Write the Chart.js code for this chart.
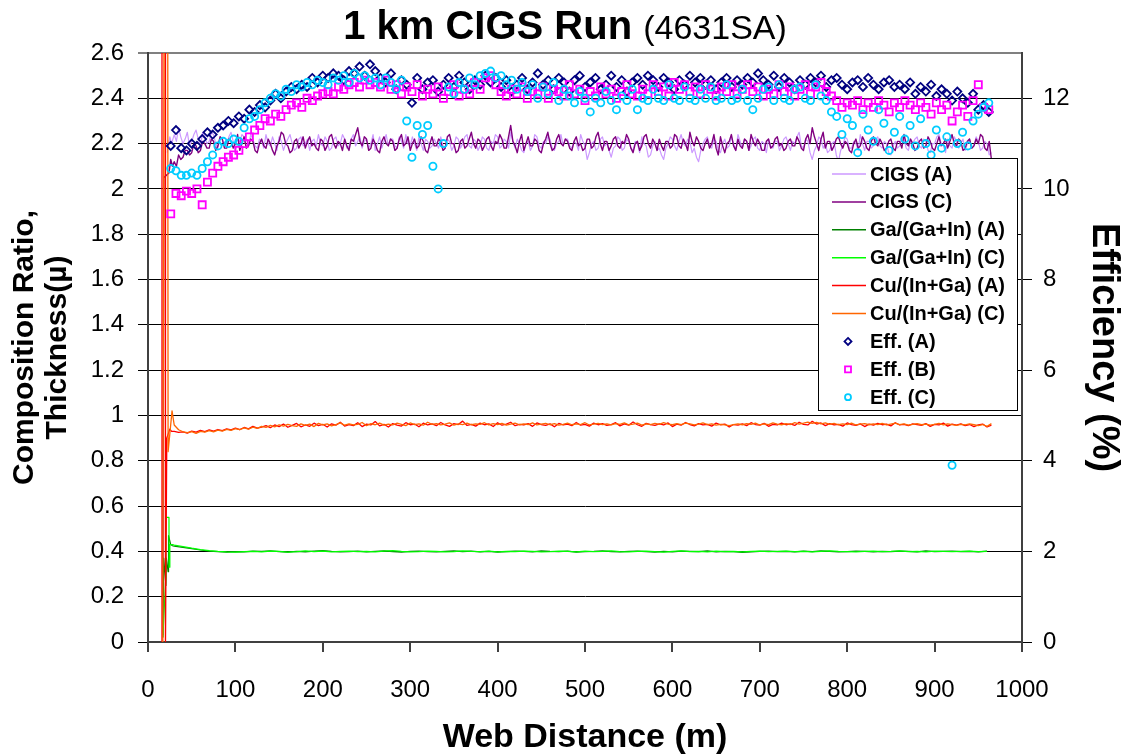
<!DOCTYPE html>
<html>
<head>
<meta charset="utf-8">
<title>1 km CIGS Run</title>
<script src="https://cdn.jsdelivr.net/npm/chart.js@4.4.1/dist/chart.umd.min.js"></script>
<style>
  html, body { margin: 0; padding: 0; background: #fff; }
  #wrap { width: 1127px; height: 755px; }
</style>
</head>
<body>
<div id="wrap"><canvas id="runChart" width="1127" height="755"></canvas></div>
<script>
/* ------------------- AXES ------------------- */
const X_MIN = 0, X_MAX = 1000, X_STEP = 100;
const RATIO_MIN = 0, RATIO_MAX = 2.6, RATIO_STEP = 0.2;
const EFF_MIN = 0, EFF_MAX = 13, EFF_STEP = 2;

/* ------------------- LINE DATA (composition, thickness) ------------------- */
// CIGS thickness every 2.5 m from 30 m
const CIGS_X0 = 30, CIGS_DX = 2.5;
// Cu/(In+Ga) every 5 m from 30 m
const CU_X0 = 30, CU_DX = 5;
// Ga/(Ga+In) every 10 m from 30 m
const GA_X0 = 30, GA_DX = 10;

// start-up transients, explicit distances
const cigsA_headX = [22, 25, 27];
const cigsA_headY = [2.16, 2.23, 2.20];
const cigsC_headX = [17, 18, 24, 26, 28];
const cigsC_headY = [0.03, 2.05, 2.07, 2.13, 2.10];
const gaA_headX = [17, 18, 20.5, 21, 23, 23.5, 26, 28];
const gaA_headY = [0.02, 0.37, 0.25, 0.37, 0.31, 0.47, 0.43, 0.425];
const gaC_headX = [17, 20.5, 20.6, 24, 24.1, 25, 28];
const gaC_headY = [0.02, 0.30, 0.55, 0.55, 0.33, 0.43, 0.43];
const cuA_headX = [15.5, 16, 19.5, 20, 21.5, 25, 27];
const cuA_headY = [0.0, 3.2, 3.2, 0.0, 0.90, 0.94, 0.93];
const cuC_headX = [16.5, 17, 18.5, 22.5, 23, 27.5];
const cuC_headY = [0.0, 0.12, 3.2, 3.2, 0.84, 1.02];

const cigsA = [
  2.24, 2.21, 2.27, 2.23, 2.20, 2.22, 2.25, 2.19, 2.21, 2.24, 2.26, 2.22, 2.19, 2.25, 2.23, 2.20, 2.21, 2.25, 2.24, 2.20,
  2.18, 2.23, 2.22, 2.19, 2.20, 2.23, 2.25, 2.21, 2.17, 2.20, 2.21, 2.24, 2.23, 2.18, 2.19, 2.24, 2.22, 2.19, 2.18, 2.22,
  2.21, 2.18, 2.24, 2.20, 2.19, 2.23, 2.20, 2.17, 2.23, 2.21, 2.17, 2.20, 2.22, 2.24, 2.20, 2.17, 2.18, 2.22, 2.23, 2.19,
  2.20, 2.22, 2.17, 2.21, 2.22, 2.19, 2.24, 2.20, 2.19, 2.23, 2.21, 2.17, 2.18, 2.22, 2.23, 2.19, 2.20, 2.24, 2.22, 2.18,
  2.19, 2.22, 2.24, 2.19, 2.21, 2.23, 2.18, 2.21, 2.22, 2.18, 2.20, 2.24, 2.17, 2.20, 2.23, 2.18, 2.21, 2.24, 2.19, 2.22,
  2.22, 2.19, 2.18, 2.23, 2.21, 2.18, 2.24, 2.20, 2.19, 2.23, 2.20, 2.17, 2.23, 2.20, 2.17, 2.22, 2.21, 2.18, 2.19, 2.22,
  2.20, 2.18, 2.23, 2.19, 2.18, 2.22, 2.21, 2.17, 2.19, 2.23, 2.22, 2.18, 2.20, 2.23, 2.24, 2.19, 2.18, 2.22, 2.21, 2.17,
  2.19, 2.23, 2.22, 2.18, 2.17, 2.21, 2.20, 2.24, 2.23, 2.18, 2.19, 2.22, 2.21, 2.18, 2.25, 2.21, 2.18, 2.22, 2.20, 2.17,
  2.16, 2.20, 2.21, 2.17, 2.19, 2.24, 2.23, 2.19, 2.18, 2.21, 2.20, 2.23, 2.22, 2.18, 2.17, 2.20, 2.21, 2.24, 2.19, 2.22,
  2.22, 2.19, 2.18, 2.21, 2.20, 2.17, 2.24, 2.21, 2.19, 2.13, 2.16, 2.20, 2.21, 2.17, 2.18, 2.22, 2.23, 2.19, 2.20, 2.17,
  2.14, 2.18, 2.19, 2.23, 2.22, 2.17, 2.18, 2.22, 2.21, 2.18, 2.17, 2.21, 2.20, 2.16, 2.23, 2.20, 2.19, 2.14, 2.15, 2.19,
  2.21, 2.17, 2.18, 2.15, 2.13, 2.18, 2.20, 2.23, 2.22, 2.19, 2.17, 2.21, 2.24, 2.20, 2.19, 2.22, 2.21, 2.16, 2.18, 2.14,
  2.12, 2.17, 2.20, 2.22, 2.23, 2.19, 2.18, 2.22, 2.21, 2.17, 2.16, 2.20, 2.22, 2.18, 2.19, 2.23, 2.20, 2.17, 2.24, 2.21,
  2.18, 2.22, 2.21, 2.17, 2.19, 2.22, 2.23, 2.18, 2.17, 2.21, 2.20, 2.16, 2.22, 2.19, 2.18, 2.21, 2.21, 2.17, 2.19, 2.22,
  2.23, 2.20, 2.17, 2.21, 2.20, 2.23, 2.25, 2.19, 2.18, 2.22, 2.21, 2.16, 2.13, 2.17, 2.19, 2.23, 2.22, 2.18, 2.20, 2.16,
  2.17, 2.20, 2.21, 2.15, 2.12, 2.17, 2.19, 2.23, 2.22, 2.18, 2.18, 2.21, 2.20, 2.17, 2.24, 2.20, 2.17, 2.21, 2.21, 2.18,
  2.19, 2.22, 2.23, 2.19, 2.18, 2.21, 2.20, 2.16, 2.15, 2.19, 2.21, 2.18, 2.19, 2.23, 2.22, 2.18, 2.17, 2.21, 2.20, 2.22,
  2.23, 2.19, 2.18, 2.22, 2.21, 2.17, 2.16, 2.20, 2.20, 2.23, 2.24, 2.20, 2.19, 2.16, 2.22, 2.19, 2.18, 2.23, 2.21, 2.18,
  2.20, 2.22, 2.17, 2.20, 2.22, 2.18, 2.19, 2.23, 2.21, 2.17, 2.18, 2.21, 2.20, 2.15, 2.16
];
const cigsC = [
  2.12, 2.10, 2.15, 2.13, 2.14, 2.17, 2.17, 2.15, 2.16, 2.20, 2.19, 2.16, 2.17, 2.21, 2.20, 2.18, 2.18, 2.22, 2.21, 2.17,
  2.19, 2.23, 2.22, 2.18, 2.18, 2.22, 2.21, 2.18, 2.20, 2.24, 2.17, 2.20, 2.23, 2.18, 2.19, 2.22, 2.21, 2.17, 2.16, 2.20,
  2.22, 2.19, 2.18, 2.22, 2.20, 2.17, 2.15, 2.19, 2.21, 2.25, 2.24, 2.20, 2.19, 2.16, 2.17, 2.21, 2.22, 2.18, 2.20, 2.23,
  2.18, 2.21, 2.23, 2.19, 2.20, 2.18, 2.17, 2.22, 2.21, 2.17, 2.19, 2.23, 2.24, 2.20, 2.18, 2.21, 2.20, 2.17, 2.22, 2.19,
  2.17, 2.22, 2.21, 2.24, 2.27, 2.21, 2.19, 2.23, 2.22, 2.17, 2.18, 2.22, 2.20, 2.17, 2.16, 2.21, 2.23, 2.20, 2.19, 2.22,
  2.21, 2.17, 2.18, 2.22, 2.24, 2.19, 2.20, 2.23, 2.17, 2.20, 2.22, 2.18, 2.19, 2.23, 2.21, 2.17, 2.16, 2.20, 2.23, 2.19,
  2.19, 2.22, 2.21, 2.17, 2.18, 2.23, 2.24, 2.20, 2.20, 2.16, 2.17, 2.21, 2.22, 2.18, 2.19, 2.22, 2.25, 2.20, 2.18, 2.22,
  2.21, 2.17, 2.19, 2.22, 2.23, 2.19, 2.17, 2.21, 2.20, 2.24, 2.22, 2.18, 2.18, 2.23, 2.28, 2.21, 2.19, 2.16, 2.21, 2.24,
  2.17, 2.20, 2.23, 2.19, 2.19, 2.22, 2.21, 2.17, 2.16, 2.20, 2.22, 2.25, 2.20, 2.17, 2.18, 2.22, 2.24, 2.20, 2.19, 2.22,
  2.21, 2.18, 2.17, 2.21, 2.23, 2.19, 2.20, 2.17, 2.18, 2.22, 2.22, 2.18, 2.19, 2.23, 2.25, 2.20, 2.17, 2.21, 2.21, 2.17,
  2.19, 2.22, 2.23, 2.19, 2.18, 2.21, 2.20, 2.24, 2.22, 2.18, 2.16, 2.20, 2.21, 2.17, 2.19, 2.23, 2.24, 2.20, 2.18, 2.22,
  2.20, 2.17, 2.22, 2.19, 2.17, 2.21, 2.21, 2.18, 2.19, 2.24, 2.23, 2.19, 2.18, 2.22, 2.20, 2.17, 2.25, 2.21, 2.19, 2.23,
  2.21, 2.18, 2.17, 2.20, 2.22, 2.18, 2.20, 2.24, 2.18, 2.15, 2.23, 2.19, 2.16, 2.20, 2.21, 2.24, 2.19, 2.17, 2.22, 2.19,
  2.18, 2.22, 2.21, 2.17, 2.24, 2.21, 2.19, 2.22, 2.20, 2.17, 2.17, 2.21, 2.22, 2.18, 2.19, 2.22, 2.23, 2.19, 2.20, 2.17,
  2.18, 2.21, 2.22, 2.19, 2.19, 2.23, 2.21, 2.18, 2.17, 2.22, 2.24, 2.20, 2.27, 2.23, 2.20, 2.17, 2.22, 2.25, 2.18, 2.21,
  2.21, 2.17, 2.19, 2.22, 2.23, 2.20, 2.18, 2.21, 2.20, 2.17, 2.16, 2.20, 2.22, 2.18, 2.19, 2.23, 2.21, 2.18, 2.17, 2.21,
  2.23, 2.20, 2.19, 2.22, 2.20, 2.17, 2.18, 2.21, 2.22, 2.18, 2.17, 2.21, 2.21, 2.18, 2.24, 2.20, 2.19, 2.22, 2.20, 2.17,
  2.18, 2.21, 2.22, 2.18, 2.19, 2.23, 2.21, 2.18, 2.17, 2.20, 2.23, 2.19, 2.20, 2.22, 2.18, 2.21, 2.24, 2.20, 2.19, 2.22,
  2.21, 2.17, 2.18, 2.21, 2.22, 2.18, 2.19, 2.22, 2.20, 2.24, 2.23, 2.18, 2.17, 2.21, 2.13
];
const gaA = [
  0.423, 0.418, 0.412, 0.406, 0.401, 0.399, 0.397, 0.399, 0.398, 0.401,
  0.400, 0.402, 0.399, 0.397, 0.400, 0.398, 0.401, 0.403, 0.400, 0.398,
  0.399, 0.401, 0.398, 0.400, 0.402, 0.399, 0.397, 0.400, 0.401, 0.399,
  0.398, 0.400, 0.402, 0.399, 0.401, 0.398, 0.400, 0.397, 0.399, 0.401,
  0.400, 0.398, 0.402, 0.400, 0.399, 0.401, 0.397, 0.399, 0.400, 0.402,
  0.399, 0.398, 0.400, 0.401, 0.399, 0.397, 0.400, 0.398, 0.401, 0.400,
  0.399, 0.402, 0.398, 0.400, 0.399, 0.396, 0.398, 0.400, 0.401, 0.399,
  0.400, 0.398, 0.401, 0.399, 0.402, 0.400, 0.398, 0.399, 0.401, 0.400,
  0.398, 0.400, 0.399, 0.401, 0.400, 0.398, 0.402, 0.399, 0.400, 0.401,
  0.399, 0.400, 0.398, 0.401
];
const gaC = [
  0.428, 0.421, 0.414, 0.408, 0.403, 0.400, 0.398, 0.397, 0.399, 0.400,
  0.398, 0.401, 0.400, 0.397, 0.399, 0.402, 0.399, 0.401, 0.398, 0.400,
  0.401, 0.399, 0.400, 0.398, 0.401, 0.403, 0.400, 0.398, 0.399, 0.401,
  0.400, 0.398, 0.399, 0.402, 0.400, 0.399, 0.401, 0.398, 0.400, 0.399,
  0.401, 0.400, 0.398, 0.399, 0.401, 0.400, 0.398, 0.401, 0.399, 0.400,
  0.402, 0.399, 0.398, 0.400, 0.401, 0.399, 0.397, 0.400, 0.402, 0.399,
  0.400, 0.398, 0.401, 0.399, 0.400, 0.398, 0.400, 0.401, 0.399, 0.400,
  0.401, 0.399, 0.400, 0.398, 0.400, 0.402, 0.400, 0.399, 0.398, 0.400,
  0.401, 0.399, 0.400, 0.402, 0.399, 0.400, 0.398, 0.401, 0.400, 0.399,
  0.400, 0.401, 0.399, 0.400
];
const cuA = [
  0.930, 0.925, 0.928, 0.922, 0.931, 0.926, 0.934, 0.929, 0.936, 0.931,
  0.938, 0.933, 0.941, 0.936, 0.944, 0.938, 0.947, 0.941, 0.952, 0.944,
  0.949, 0.955, 0.946, 0.958, 0.951, 0.962, 0.948, 0.956, 0.965, 0.950,
  0.958, 0.952, 0.966, 0.955, 0.961, 0.949, 0.963, 0.957, 0.970, 0.953,
  0.960, 0.955, 0.968, 0.951, 0.962, 0.958, 0.973, 0.954, 0.961, 0.949,
  0.964, 0.957, 0.953, 0.968, 0.959, 0.962, 0.950, 0.966, 0.958, 0.963,
  0.955, 0.969, 0.958, 0.952, 0.964, 0.960, 0.975, 0.956, 0.961, 0.953,
  0.966, 0.959, 0.963, 0.951, 0.968, 0.957, 0.962, 0.970, 0.955, 0.961,
  0.958, 0.964, 0.952, 0.967, 0.960, 0.956, 0.963, 0.950, 0.965, 0.958,
  0.962, 0.955, 0.969, 0.957, 0.961, 0.953, 0.966, 0.959, 0.964, 0.956,
  0.960, 0.968, 0.954, 0.963, 0.957, 0.971, 0.959, 0.952, 0.965, 0.960,
  0.956, 0.963, 0.958, 0.967, 0.951, 0.962, 0.957, 0.969, 0.960, 0.954,
  0.964, 0.958, 0.961, 0.953, 0.966, 0.959, 0.962, 0.949, 0.960, 0.957,
  0.963, 0.955, 0.968, 0.960, 0.957, 0.965, 0.952, 0.961, 0.958, 0.966,
  0.959, 0.963, 0.956, 0.970, 0.961, 0.958, 0.974, 0.962, 0.967, 0.955,
  0.964, 0.958, 0.961, 0.953, 0.967, 0.960, 0.956, 0.963, 0.951, 0.962,
  0.957, 0.965, 0.959, 0.962, 0.954, 0.968, 0.958, 0.961, 0.955, 0.963,
  0.960, 0.956, 0.964, 0.952, 0.961, 0.958, 0.966, 0.953, 0.962, 0.957,
  0.963, 0.955, 0.960, 0.951, 0.958, 0.962, 0.949, 0.957
];
const cuC = [
  0.958, 0.937, 0.928, 0.924, 0.929, 0.921, 0.930, 0.926, 0.933, 0.928,
  0.935, 0.931, 0.939, 0.934, 0.942, 0.937, 0.945, 0.940, 0.948, 0.943,
  0.952, 0.947, 0.956, 0.950, 0.959, 0.953, 0.961, 0.955, 0.952, 0.963,
  0.956, 0.962, 0.951, 0.965, 0.958, 0.963, 0.954, 0.960, 0.967, 0.957,
  0.963, 0.958, 0.961, 0.969, 0.955, 0.964, 0.959, 0.966, 0.957, 0.962,
  0.958, 0.966, 0.961, 0.955, 0.967, 0.960, 0.963, 0.957, 0.970, 0.961,
  0.964, 0.958, 0.962, 0.967, 0.957, 0.963, 0.960, 0.966, 0.959, 0.963,
  0.961, 0.968, 0.958, 0.964, 0.960, 0.965, 0.957, 0.962, 0.966, 0.959,
  0.963, 0.960, 0.967, 0.958, 0.962, 0.965, 0.959, 0.964, 0.957, 0.961,
  0.966, 0.959, 0.963, 0.960, 0.968, 0.958, 0.962, 0.965, 0.960, 0.963,
  0.958, 0.964, 0.961, 0.967, 0.959, 0.962, 0.966, 0.957, 0.963, 0.960,
  0.965, 0.961, 0.968, 0.962, 0.959, 0.964, 0.960, 0.966, 0.963, 0.958,
  0.962, 0.967, 0.960, 0.963, 0.957, 0.961, 0.958, 0.955, 0.960, 0.963,
  0.959, 0.964, 0.961, 0.966, 0.958, 0.963, 0.960, 0.967, 0.962, 0.959,
  0.964, 0.960, 0.968, 0.962, 0.966, 0.971, 0.965, 0.969, 0.963, 0.967,
  0.961, 0.965, 0.959, 0.963, 0.960, 0.966, 0.958, 0.962, 0.964, 0.959,
  0.963, 0.960, 0.965, 0.958, 0.962, 0.966, 0.960, 0.963, 0.957, 0.961,
  0.964, 0.959, 0.962, 0.957, 0.961, 0.965, 0.958, 0.963, 0.960, 0.956,
  0.961, 0.958, 0.963, 0.959, 0.955, 0.960, 0.952, 0.964
];

/* ------------------- EFFICIENCY DATA (%) ------------------- */
// cells measured every 6 m from 26 m
const EFF_X0 = 26, EFF_DX = 6;
const effA = [
  10.95, 11.3, 10.9, 10.85, 11.0, 10.95, 11.1, 11.25, 11.2, 11.35,
  11.4, 11.5, 11.45, 11.6, 11.55, 11.75, 11.7, 11.85, 11.8, 11.95,
  12.1, 12.0, 12.15, 12.25, 12.2, 12.3, 12.25, 12.45, 12.35, 12.5,
  12.45, 12.55, 12.5, 12.4, 12.6, 12.55, 12.7, 12.5, 12.75, 12.6,
  12.45, 12.35, 12.55, 12.2, 12.4, 12.3, 11.9, 12.45, 12.2, 12.35,
  12.4, 12.15, 12.3, 12.45, 12.25, 12.5, 12.35, 12.2, 12.4, 12.3,
  12.5, 12.35, 12.45, 12.25, 12.4, 12.15, 12.3, 12.45, 12.2, 12.35,
  12.55, 12.3, 12.4, 12.2, 12.45, 12.35, 12.15, 12.4, 12.5, 12.25,
  12.35, 12.45, 12.2, 12.3, 12.5, 12.25, 12.4, 12.15, 12.35, 12.45,
  12.3, 12.5, 12.4, 12.25, 12.45, 12.35, 12.2, 12.4, 12.3, 12.5,
  12.35, 12.45, 12.3, 12.4, 12.2, 12.35, 12.45, 12.25, 12.4, 12.3,
  12.45, 12.35, 12.55, 12.4, 12.3, 12.5, 12.25, 12.45, 12.35, 12.2,
  12.4, 12.3, 12.45, 12.35, 12.5, 12.25, 12.4, 12.45, 12.3, 12.2,
  12.35, 12.4, 12.25, 12.45, 12.3, 12.2, 12.35, 12.4, 12.25, 12.3,
  12.2, 12.35, 12.1, 12.25, 12.15, 12.3, 12.05, 12.2, 12.1, 11.95,
  12.15, 12.0, 11.9, 12.1, 11.75, 11.85, 11.7
];
const effB = [
  9.45, 9.9, 9.85, 9.95, 9.9, 10.0, 9.65, 10.15, 10.35, 10.5,
  10.6, 10.7, 10.75, 10.85, 11.0, 11.15, 11.3, 11.4, 11.55, 11.5,
  11.65, 11.6, 11.75, 11.85, 11.9, 11.8, 12.0, 11.95, 12.05, 12.1,
  12.15, 12.1, 12.25, 12.2, 12.3, 12.35, 12.25, 12.4, 12.3, 12.35,
  12.25, 12.4, 12.2, 12.3, 12.1, 12.25, 12.15, 12.3, 12.05, 12.2,
  12.1, 12.25, 12.0, 12.15, 12.3, 12.05, 12.2, 12.1, 12.35, 12.2,
  12.45, 12.5, 12.3, 12.15, 12.05, 12.2, 12.1, 12.25, 12.0, 12.15,
  12.1, 12.25, 12.0, 12.2, 12.15, 12.05, 12.3, 12.1, 12.2, 11.95,
  12.15, 12.05, 12.25, 12.1, 12.2, 12.0, 12.15, 12.3, 12.1, 12.05,
  12.2, 12.1, 12.3, 12.15, 12.25, 12.05, 12.35, 12.2, 12.3, 12.15,
  12.25, 12.1, 12.3, 12.2, 12.05, 12.25, 12.15, 12.3, 12.1, 12.2,
  12.3, 12.15, 12.25, 12.05, 12.2, 12.1, 12.3, 12.15, 12.25, 12.05,
  12.2, 12.3, 12.1, 12.25, 12.35, 12.15, 12.05, 11.95, 11.8, 11.9,
  11.85, 11.95, 11.75, 11.9, 11.8, 11.95, 11.85, 11.7, 11.9, 11.8,
  11.95, 11.85, 11.75, 11.9, 11.8, 11.65, 11.9, 11.75, 11.85, 11.5,
  11.7, 11.85, 11.6, 11.95, 12.3, 11.8, 11.75
];
const effC = [
  10.45, 10.4, 10.3, 10.3, 10.35, 10.3, 10.45, 10.6, 10.75, 10.95,
  11.05, 11.0, 11.1, 11.05, 11.35, 11.55, 11.6, 11.75, 11.9, 12.0,
  12.1, 12.05, 12.2, 12.15, 12.3, 12.25, 12.35, 12.3, 12.4, 12.35,
  12.3, 12.45, 12.4, 12.5, 12.35, 12.55, 12.45, 12.5, 12.4, 12.45,
  12.3, 12.45, 12.35, 12.2, 12.4, 11.5, 10.7, 11.4, 11.2, 11.4,
  10.5, 10.0, 11.0, 12.25, 12.1, 12.35, 12.2, 12.45, 12.3, 12.5,
  12.55, 12.6, 12.45, 12.5, 12.3, 12.4, 12.2, 12.35, 12.15, 12.3,
  12.0, 12.25, 12.1, 12.35, 11.95, 12.2, 12.05, 11.9, 12.15, 12.0,
  11.7, 12.0, 11.9, 12.15, 11.95, 11.75, 12.05, 11.95, 12.2, 11.75,
  12.0, 11.95, 12.2, 12.0, 11.95, 12.3, 12.0, 11.95, 12.25, 12.0,
  11.95, 12.2, 12.0, 12.25, 11.95, 12.0, 12.3, 11.95, 12.0, 12.2,
  11.95, 11.75, 12.0, 12.2, 12.25, 11.95, 12.3, 12.0, 11.95, 12.2,
  12.25, 12.0, 11.95, 12.3, 12.05, 11.95, 11.7, 11.6, 11.2, 11.55,
  11.4, 10.8, 11.65, 11.3, 11.05, 11.75, 11.45, 10.85, 11.25, 11.6,
  11.1, 11.4, 10.95, 11.55, 11.0, 10.75, 11.3, 10.9, 11.15, 3.9,
  11.0, 11.25, 10.95, 11.5, 11.65, 11.8, 11.9
];

/* ------------------- Helpers ------------------- */
const FONT = '"Liberation Sans", Arial, Helvetica, sans-serif';

function pairs(xs, ys) {
  return xs.map((x, i) => ({ x: x, y: ys[i] }));
}
function sampled(x0, dx, ys) {
  return ys.map((y, i) => ({ x: x0 + dx * i, y: y }));
}

function lineSet(label, color, head, body, order, width) {
  return {
    label: label,
    data: head.concat(body),
    showLine: true,
    borderColor: color,
    backgroundColor: color,
    borderWidth: width || 1,
    borderJoinStyle: 'round',
    pointRadius: 0,
    yAxisID: 'y',
    order: order
  };
}
function effSet(label, color, style, radius, ys, order) {
  return {
    label: label,
    data: sampled(EFF_X0, EFF_DX, ys),
    showLine: false,
    pointStyle: style,
    pointRadius: radius,
    pointBorderWidth: 1.8,
    borderColor: color,
    backgroundColor: 'rgba(0,0,0,0)',
    yAxisID: 'y2',
    order: order
  };
}

/* ------------------- Plugins ------------------- */
// two-weight heading above the plot
const headingPlugin = {
  id: 'heading',
  afterDraw(chart) {
    const ctx = chart.ctx;
    const bold = 'bold 40px ' + FONT;
    const plain = '34px ' + FONT;
    ctx.save();
    ctx.font = bold;
    const main = '1 km CIGS Run ';
    const w1 = ctx.measureText(main).width;
    ctx.font = plain;
    const sub = '(4631SA)';
    const w2 = ctx.measureText(sub).width;
    const x0 = 565 - (w1 + w2) / 2;
    ctx.fillStyle = '#000';
    ctx.textBaseline = 'alphabetic';
    ctx.font = bold;
    ctx.fillText(main, x0, 39);
    ctx.font = plain;
    ctx.fillText(sub, x0 + w1, 39);
    ctx.restore();
  }
};

// boxed legend sitting inside the plot area
const boxLegendPlugin = {
  id: 'boxLegend',
  afterDraw(chart) {
    const ctx = chart.ctx;
    const bx = 818, by = 158, bw = 199, bh = 252;
    const rowTop = 174, rowH = 27.9;
    ctx.save();
    ctx.fillStyle = '#fff';
    ctx.fillRect(bx, by, bw, bh);
    ctx.strokeStyle = '#000';
    ctx.lineWidth = 1;
    ctx.strokeRect(bx + 0.5, by + 0.5, bw, bh);
    ctx.font = 'bold 20px ' + FONT;
    ctx.textBaseline = 'middle';
    chart.data.datasets.forEach((ds, i) => {
      const cy = rowTop + i * rowH;
      ctx.strokeStyle = ds.borderColor;
      if (ds.showLine) {
        ctx.lineWidth = 1.5;
        ctx.beginPath();
        ctx.moveTo(832, cy);
        ctx.lineTo(866, cy);
        ctx.stroke();
      } else {
        const cx = 848;
        ctx.lineWidth = 1.8;
        ctx.beginPath();
        if (ds.pointStyle === 'rectRot') {
          ctx.moveTo(cx, cy - 3.5);
          ctx.lineTo(cx + 3.5, cy);
          ctx.lineTo(cx, cy + 3.5);
          ctx.lineTo(cx - 3.5, cy);
          ctx.closePath();
        } else if (ds.pointStyle === 'rect') {
          ctx.rect(cx - 3, cy - 3, 6, 6);
        } else {
          ctx.arc(cx, cy, 3, 0, Math.PI * 2);
        }
        ctx.stroke();
      }
      ctx.fillStyle = '#000';
      ctx.fillText(ds.label, 870, cy + 1);
    });
    ctx.restore();
  }
};

/* ------------------- Chart ------------------- */
Chart.defaults.font.family = FONT;
Chart.defaults.color = '#000';

const datasets = [
  lineSet('CIGS (A)', '#cc99ff', pairs(cigsA_headX, cigsA_headY), sampled(CIGS_X0, CIGS_DX, cigsA), 9, 1.2),
  lineSet('CIGS (C)', '#800080', pairs(cigsC_headX, cigsC_headY), sampled(CIGS_X0, CIGS_DX, cigsC), 8, 1.4),
  lineSet('Ga/(Ga+In) (A)', '#008000', pairs(gaA_headX, gaA_headY), sampled(GA_X0, GA_DX, gaA), 7, 1.2),
  lineSet('Ga/(Ga+In) (C)', '#00ff00', pairs(gaC_headX, gaC_headY), sampled(GA_X0, GA_DX, gaC), 6, 1.2),
  lineSet('Cu/(In+Ga) (A)', '#ff0000', pairs(cuA_headX, cuA_headY), sampled(CU_X0, CU_DX, cuA), 5, 1.3),
  lineSet('Cu/(In+Ga) (C)', '#ff6600', pairs(cuC_headX, cuC_headY), sampled(CU_X0, CU_DX, cuC), 4, 1.3),
  effSet('Eff. (A)', '#000080', 'rectRot', 4, effA, 3),
  effSet('Eff. (B)', '#ff00ff', 'rect', 5, effB, 2),
  effSet('Eff. (C)', '#00ccff', 'circle', 3.6, effC, 1)
];

new Chart(document.getElementById('runChart'), {
  type: 'scatter',
  data: { datasets: datasets },
  options: {
    responsive: false,
    animation: false,
    devicePixelRatio: 1,
    events: [],
    layout: { padding: { top: 53, left: 0, right: 0, bottom: 0 } },
    plugins: {
      legend: { display: false },
      tooltip: { enabled: false }
    },
    scales: {
      x: {
        type: 'linear',
        min: X_MIN, max: X_MAX,
        afterFit: s => { s.height = 113; },
        ticks: { stepSize: X_STEP, padding: 24, font: { size: 24 }, callback: v => String(v) },
        grid: { drawOnChartArea: false, tickLength: 10, color: '#404040', lineWidth: 2 },
        border: { color: '#404040', width: 2 },
        title: {
          display: true,
          text: 'Web Distance (m)',
          font: { size: 34, weight: 'bold', lineHeight: 1.05 },
          padding: { top: 0, bottom: 0 }
        }
      },
      y: {
        position: 'left',
        min: RATIO_MIN, max: RATIO_MAX,
        afterFit: s => { s.width = 148; },
        ticks: { stepSize: RATIO_STEP, padding: 14, font: { size: 24 }, callback: v => String(+v.toFixed(1)) },
        grid: {
          tickLength: 10,
          color: c => (c.tick && c.tick.value > 2.59) ? '#808080' : '#000',
          lineWidth: c => (c.tick && c.tick.value > 2.59) ? 2 : 1
        },
        border: { color: '#404040', width: 2 },
        title: {
          display: true,
          text: ['Composition Ratio,', 'Thickness(µ)'],
          font: { size: 30, weight: 'bold', lineHeight: 1.1 },
          padding: { top: 8, bottom: 0 }
        }
      },
      y2: {
        position: 'right',
        min: EFF_MIN, max: EFF_MAX,
        afterFit: s => { s.width = 105; },
        afterBuildTicks: s => { s.ticks = s.ticks.filter(t => t.value <= 12); },
        ticks: { stepSize: EFF_STEP, padding: 11, font: { size: 24 }, callback: v => String(v) },
        grid: { drawOnChartArea: false, tickLength: 10, color: '#000' },
        border: { color: '#404040', width: 2 },
        title: { display: true, text: 'Efficiency (%)', font: { size: 38, weight: 'bold' }, padding: { top: 1, bottom: 0 } }
      }
    }
  },
  plugins: [headingPlugin, boxLegendPlugin]
});
</script>
</body>
</html>
